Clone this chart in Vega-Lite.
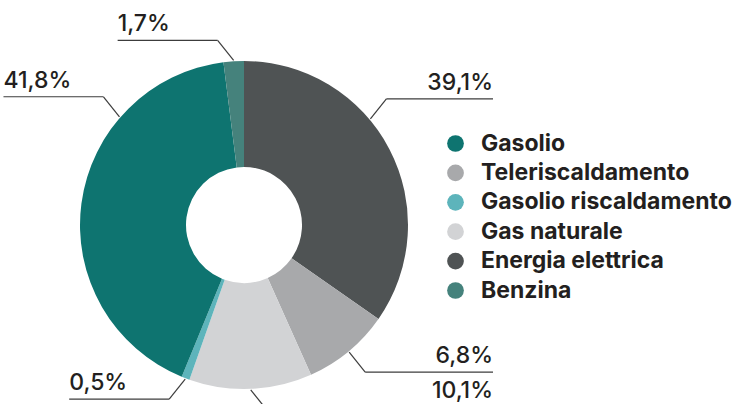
{
  "$schema": "https://vega.github.io/schema/vega-lite/v6.json",
  "width": 752,
  "height": 404,
  "autosize": {"type": "none"},
  "padding": 0,
  "background": "white",
  "config": {"view": {"stroke": null}},
  "data": {
    "values": [
      {"fonte": "Energia elettrica", "quota": 34.7, "etichetta": "39,1%"},
      {"fonte": "Teleriscaldamento", "quota": 8.6, "etichetta": "6,8%"},
      {"fonte": "Gas naturale", "quota": 12.1, "etichetta": "10,1%"},
      {"fonte": "Gasolio riscaldamento", "quota": 0.8, "etichetta": "0,5%"},
      {"fonte": "Gasolio", "quota": 41.8, "etichetta": "41,8%"},
      {"fonte": "Benzina", "quota": 2.0, "etichetta": "1,7%"}
    ]
  },
  "transform": [
    {"window": [{"op": "row_number", "as": "idx"}]},
    {"window": [{"op": "sum", "field": "quota", "as": "cum"}], "sort": [{"field": "idx"}], "frame": [null, 0]},
    {"joinaggregate": [{"op": "sum", "field": "quota", "as": "tot"}]},
    {"calculate": "(datum.cum - datum.quota / 2) / datum.tot * 360", "as": "mid"},
    {"calculate": "datum.quota / datum.tot * 360 > 100 ? (datum.mid < 180 ? 50 : 311) : datum.mid", "as": "ang"},
    {"calculate": "datum.ang * PI / 180", "as": "rad"},
    {"calculate": "sin(datum.rad) >= 0 ? 1 : -1", "as": "sx"},
    {"calculate": "cos(datum.rad) >= 0 ? 1 : -1", "as": "sy"},
    {"calculate": "165 * sin(datum.rad)", "as": "x0"},
    {"calculate": "165 * cos(datum.rad)", "as": "y0"},
    {"calculate": "datum.x0 + 16 * datum.sx", "as": "x1"},
    {"calculate": "datum.y0 + 20 * datum.sy", "as": "y1"},
    {"calculate": "datum.sx > 0 ? 249 : datum.x1 - 100", "as": "x2"},
    {"calculate": "max(datum.y1 + 9, -173)", "as": "yt"}
  ],
  "layer": [
    {
      "mark": {"type": "arc", "outerRadius": 164, "innerRadius": 58},
      "encoding": {
        "x": {"datum": 0, "type": "quantitative", "scale": {"domain": [-244, 508], "nice": false, "zero": false}, "axis": null},
        "y": {"datum": 0, "type": "quantitative", "scale": {"domain": [-179, 225], "nice": false, "zero": false}, "axis": null},
        "theta": {"field": "quota", "type": "quantitative", "stack": true},
        "order": {"field": "idx", "type": "quantitative"},
        "color": {
          "field": "fonte",
          "type": "nominal",
          "scale": {
            "domain": ["Gasolio", "Teleriscaldamento", "Gasolio riscaldamento", "Gas naturale", "Energia elettrica", "Benzina"],
            "range": ["#0e7470", "#a8a9ab", "#5db4bb", "#d2d3d5", "#4f5354", "#45827c"]
          },
          "legend": {
            "orient": "none",
            "legendX": 444,
            "legendY": 132,
            "title": null,
            "symbolType": "circle",
            "symbolSize": 280,
            "symbolStrokeWidth": 0,
            "symbolOpacity": 1,
            "labelFontSize": 23,
            "labelFont": "Inter",
            "labelFontWeight": "bold",
            "labelColor": "#231f20",
            "rowPadding": 5.4,
            "labelOffset": 14,
            "padding": 0,
            "labelLimit": 400
          }
        }
      }
    },
    {
      "mark": {"type": "rule", "color": "#3c3c3c", "strokeWidth": 1.2},
      "encoding": {
        "x": {"field": "x0", "type": "quantitative"},
        "y": {"field": "y0", "type": "quantitative"},
        "x2": {"field": "x1"},
        "y2": {"field": "y1"}
      }
    },
    {
      "mark": {"type": "rule", "color": "#3c3c3c", "strokeWidth": 1.2},
      "encoding": {
        "x": {"field": "x1", "type": "quantitative"},
        "y": {"field": "y1", "type": "quantitative"},
        "x2": {"field": "x2"},
        "y2": {"field": "y1"}
      }
    },
    {
      "mark": {"type": "text", "font": "Inter", "fontSize": 23, "fontWeight": 500, "color": "#231f20", "baseline": "alphabetic", "align": {"expr": "datum.sx > 0 ? 'right' : 'left'"}},
      "encoding": {
        "x": {"field": "x2", "type": "quantitative"},
        "y": {"field": "yt", "type": "quantitative"},
        "text": {"field": "etichetta", "type": "nominal"}
      }
    }
  ]
}
